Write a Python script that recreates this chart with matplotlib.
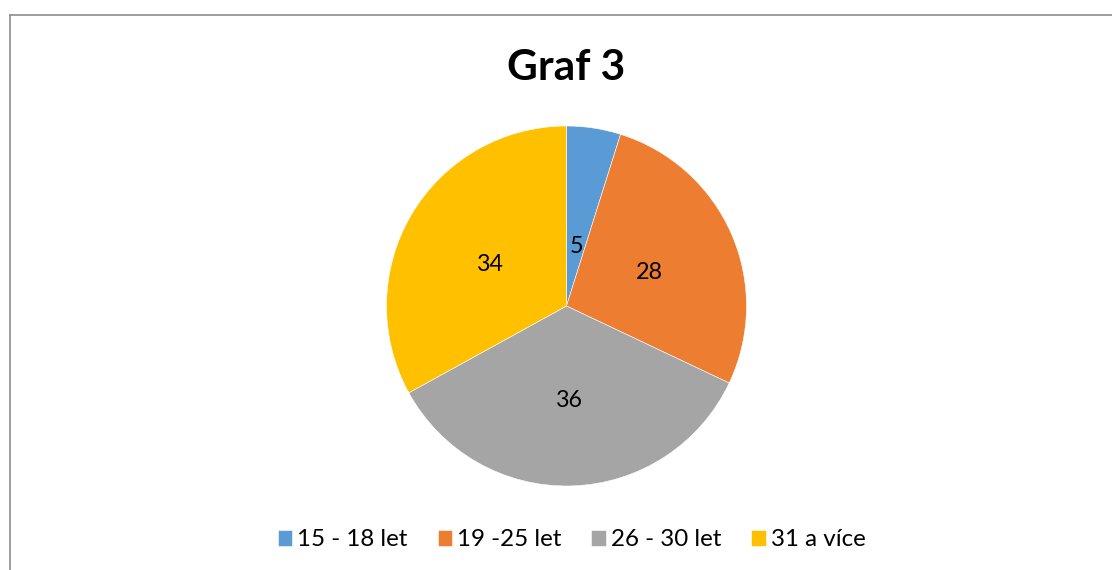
import numpy as np
import matplotlib
matplotlib.use('Agg')
import matplotlib.pyplot as plt
from matplotlib.lines import Line2D
from matplotlib.transforms import offset_copy

categories = ['15 - 18 let', '19 -25 let', '26 - 30 let', '31 a více']
values = [5, 28, 36, 34]
colors = ['#5B9BD5', '#ED7D31', '#A5A5A5', '#FFC000']

plt.rcParams['font.family'] = ['Lato', 'DejaVu Sans']

W, H = 1112, 570
fig = plt.figure(figsize=(W / 100, H / 100), dpi=100)

# pie centre and radius in pixels
cx, cy, r = 566.5, 306, 180
ax = fig.add_axes([(cx - r) / W, (H - cy - r) / H, 2 * r / W, 2 * r / H])
wedges, _ = ax.pie(values, colors=colors, startangle=90, counterclock=False,
                   wedgeprops={'edgecolor': 'white', 'linewidth': 0.4})
ax.set_xlim(-1, 1)
ax.set_ylim(-1, 1)

# data labels inside the slices
label_dist = [0.35, 0.5, 0.51, 0.49]
trans = offset_copy(ax.transData, fig=fig, x=0, y=-3, units='dots')
for w, v, d in zip(wedges, values, label_dist):
    ang = np.deg2rad((w.theta1 + w.theta2) / 2)
    ax.text(d * np.cos(ang), d * np.sin(ang), str(v), ha='center', va='center',
            fontsize=16.8, color='black', transform=trans)

fig.text(cx / W, 1 - 80 / H, 'Graf 3', ha='center', va='baseline',
         fontsize=30.5, fontweight='bold', color='black')

leg = fig.legend(wedges, categories, loc='center', bbox_to_anchor=(571.5 / W, 1 - 540 / H),
                 ncol=4, frameon=False, fontsize=17.4, handlelength=0.6, handleheight=0.6,
                 handletextpad=0.2, columnspacing=1.25)

# chart area border (top and left visible)
fig.add_artist(Line2D([9.5 / W, 9.5 / W], [0, 1 - 14.5 / H], color='#8c8c8c', lw=1.2))
fig.add_artist(Line2D([9.5 / W, 1], [1 - 14.5 / H, 1 - 14.5 / H], color='#8c8c8c', lw=1.2))

fig.savefig('out.png', dpi=100, facecolor='white')
